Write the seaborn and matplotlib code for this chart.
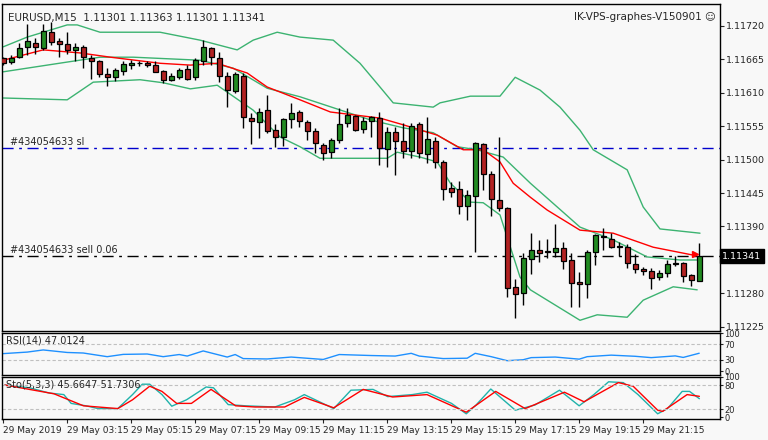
import matplotlib
matplotlib.use("Agg")
import matplotlib.pyplot as plt
import seaborn as sns
import numpy as np
import pandas as pd

opens = [1.11666,1.11660,1.11668,1.11684,1.11692,1.11683,1.11710,1.11695,1.11690,1.11679,
1.11684,1.11666,1.11661,1.11640,1.11636,1.11646,1.11655,1.11658,1.11659,1.11655,
1.11645,1.11631,1.11635,1.11648,1.11635,1.11662,1.11683,1.11666,1.11637,1.11613,
1.11637,1.11568,1.11562,1.11581,1.11548,1.11537,1.11566,1.11578,1.11561,1.11547,
1.11524,1.11512,1.11532,1.11560,1.11571,1.11550,1.11564,1.11568,1.11517,1.11545,
1.11530,1.11514,1.11558,1.11509,1.11530,1.11496,1.11453,1.11452,1.11424,1.11440,
1.11525,1.11476,1.11433,1.11420,1.11291,1.11281,1.11337,1.11351,1.11348,1.11348,
1.11355,1.11335,1.11299,1.11296,1.11348,1.11374,1.11369,1.11358,1.11356,1.11328,
1.11320,1.11317,1.11307,1.11314,1.11330,1.11330,1.11310,1.11301]
closes = [1.11658,1.11666,1.11683,1.11695,1.11684,1.11711,1.11693,1.11689,1.11679,1.11684,
1.11668,1.11661,1.11640,1.11636,1.11647,1.11657,1.11659,1.11659,1.11655,1.11644,
1.11631,1.11637,1.11647,1.11633,1.11663,1.11684,1.11668,1.11637,1.11614,1.11640,
1.11569,1.11564,1.11578,1.11547,1.11537,1.11566,1.11576,1.11563,1.11546,1.11527,
1.11510,1.11532,1.11559,1.11573,1.11548,1.11564,1.11569,1.11519,1.11545,1.11530,
1.11514,1.11555,1.11511,1.11534,1.11496,1.11452,1.11447,1.11424,1.11442,1.11527,
1.11476,1.11435,1.11420,1.11289,1.11279,1.11338,1.11351,1.11346,1.11348,1.11355,
1.11333,1.11297,1.11296,1.11348,1.11376,1.11373,1.11356,1.11356,1.11330,1.11320,
1.11317,1.11305,1.11314,1.11328,1.11328,1.11309,1.11302,1.11341]
highs = [1.11669,1.11672,1.11691,1.11722,1.11699,1.11722,1.11726,1.11699,1.11709,1.11692,
1.11688,1.11672,1.11663,1.11650,1.11650,1.11661,1.11663,1.11662,1.11662,1.11662,
1.11647,1.11642,1.11650,1.11655,1.11666,1.11696,1.11685,1.11677,1.11644,1.11644,
1.11642,1.11576,1.11584,1.11606,1.11559,1.11568,1.11592,1.11581,1.11565,1.11551,
1.11527,1.11535,1.11584,1.11584,1.11573,1.11570,1.11571,1.11578,1.11553,1.11553,
1.11560,1.11560,1.11562,1.11570,1.11537,1.11499,1.11463,1.11465,1.11450,1.11529,
1.11527,1.11481,1.11537,1.11422,1.11304,1.11346,1.11379,1.11368,1.11370,1.11394,
1.11365,1.11346,1.11315,1.11351,1.11378,1.11388,1.11379,1.11365,1.11361,1.11345,
1.11323,1.11322,1.11319,1.11335,1.11342,1.11332,1.11312,1.11363]
lows = [1.11655,1.11657,1.11666,1.11672,1.11674,1.11680,1.11688,1.11669,1.11673,1.11662,
1.11650,1.11633,1.11636,1.11620,1.11629,1.11639,1.11648,1.11654,1.11652,1.11643,
1.11625,1.11629,1.11632,1.11631,1.11631,1.11655,1.11655,1.11628,1.11587,1.11609,
1.11551,1.11525,1.11536,1.11543,1.11521,1.11522,1.11551,1.11554,1.11532,1.11510,
1.11499,1.11502,1.11527,1.11554,1.11546,1.11543,1.11537,1.11491,1.11488,1.11475,
1.11502,1.11502,1.11502,1.11494,1.11486,1.11433,1.11438,1.11410,1.11401,1.11348,
1.11450,1.11407,1.11415,1.11274,1.11240,1.11261,1.11312,1.11332,1.11338,1.11340,
1.11320,1.11258,1.11258,1.11273,1.11327,1.11351,1.11355,1.11342,1.11322,1.11314,
1.11310,1.11287,1.11302,1.11307,1.11325,1.11299,1.11292,1.11301]

up_bar = [0,3,8,9.25,12.1,19.6,24.6,29.25,31.25,34.25,37.1,41.25,44.6,47.1,48.75,53.75,54.6,58.4,62.1,64,67.1,69.6,72.1,73.75,78,80,82.1,87.1]
up_val = [1.11685,1.11701,1.11721,1.11721,1.11709,1.11709,1.11696,1.11680,1.11696,1.11709,1.11701,1.11696,1.11658,1.11619,1.11593,1.11586,1.11593,1.11604,1.11604,1.11635,1.11614,1.11586,1.11548,1.11516,1.11483,1.11422,1.11386,1.11379]
lo_bar = [0,8,11.25,17.1,20,23.4,26.75,31.25,34.6,37.1,39.6,45.9,48,49.25,52.1,54.25,55.9,58.4,60,62.1,63.4,64.6,65.9,72.1,74.25,78,80,83.75,86.75]
lo_val = [1.11601,1.11598,1.11627,1.11631,1.11626,1.11616,1.11622,1.11581,1.11537,1.11521,1.11502,1.11502,1.11502,1.11512,1.11504,1.11496,1.11461,1.11430,1.11429,1.11409,1.11356,1.11307,1.11286,1.11236,1.11245,1.11241,1.11269,1.11291,1.11286]
mid_bar = [0,8,12.1,16.25,24.6,28.75,33,37.1,45.9,50,53.75,56.75,59.25,62.5,65.9,72.1,76.25,80.5,84.6,86.75]
mid_val = [1.11644,1.11660,1.11668,1.11668,1.11663,1.11650,1.11617,1.11603,1.11565,1.11552,1.11544,1.11521,1.11516,1.11504,1.11461,1.11389,1.11368,1.11340,1.11335,1.11335]
ma_bar = [0,5,9.6,13.4,19.6,23.4,26.75,30.5,33,37.1,40.9,47.1,50,54.25,57.5,60,62.1,63.75,65.9,68,72.1,76.25,81.25,86.25]
ma_val = [1.11663,1.11680,1.11675,1.11668,1.11658,1.11655,1.11658,1.11642,1.11619,1.11598,1.11578,1.11568,1.11557,1.11540,1.11516,1.11516,1.11496,1.11461,1.11438,1.11417,1.11384,1.11379,1.11356,1.11343]

rsi_bar = [0,3,5,8,10,13,15,18,20,22,23,25,28,29,30,33,36,40,42,46,49,51,52,55,58,59,61,63,65,66,69,72,73,76,79,81,84,85,87]
rsi_val = [46,50,55.6,49,47.6,38,44,45,38,43.6,39.6,53,37,43.6,33,32,37,30.7,43.6,41,39.6,46.8,39.6,33,34,46.8,38,27.5,30,35.5,37,31.5,38,42,39,35.5,40,36,47.0]
stk_zx = [10,60,100,130,145,175,200,240,270,290,305,330,350,380,420,435,465,500,560,600,620,680,715,760,790,840,870,920,950,970,1000,1050,1090,1140,1180,1210,1240,1270,1300,1340,1360,1390,1405,1425]
stk_val = [80,73,60,56,34,28,21,21,56,82,82,56,27,43,75,73,31,28,25,43,56,21,67,69,51,56,62,34,8,30,70,17,30,67,28,56,88,86,56,8,21,64,64,45.7]
std_zx = [10,60,110,140,170,240,270,305,330,360,390,430,480,520,580,620,680,740,800,870,950,1010,1070,1150,1190,1260,1290,1340,1350,1400,1425]
std_val = [80,69,58,43,28,21,43,77,64,34,34,69,28,25,25,49,23,69,50,56,12,64,21,62,38,86,77,17,14,56,51.7]

price_ticks = [1.11720,1.11665,1.11610,1.11555,1.11500,1.11445,1.11390,1.11335,1.11280,1.11225]
time_labels = ["29 May 2019","29 May 03:15","29 May 05:15","29 May 07:15","29 May 09:15","29 May 11:15","29 May 13:15","29 May 15:15","29 May 17:15","29 May 19:15","29 May 21:15"]
time_bars = [0,8,16,24,32,40,48,56,64,72,80]
sl_price = 1.11519
sell_price = 1.11341

sns.set_style("white")
plt.rcParams['font.family'] = ['DejaVu Sans']
BG = '#f8f8f8'
W, H = 768, 440
fig = plt.figure(figsize=(7.68, 4.4), dpi=100)
fig.patch.set_facecolor(BG)

def axpx(x0, y0, x1, y1):
    return fig.add_axes([x0 / W, 1 - y1 / H, (x1 - x0) / W, (y1 - y0) / H])

XMIN = -0.15
XMAX = XMIN + (720 - 2) / 8.0
ax = axpx(2, 4, 720, 331)
ax1 = axpx(2, 333, 720, 375)
ax2 = axpx(2, 377, 720, 419)
for a in (ax, ax1, ax2):
    a.set_facecolor(BG)
    a.set_xlim(XMIN, XMAX)
    for s in a.spines.values():
        s.set_color('black'); s.set_linewidth(1)
    a.tick_params(axis='x', bottom=False, labelbottom=False)
    a.yaxis.tick_right()

df = pd.DataFrame({'o': opens, 'h': highs, 'l': lows, 'c': closes})
df['i'] = np.arange(len(df))
ax.vlines(df['i'], df['l'], df['h'], color='black', lw=1, zorder=3)
bull = df['c'] >= df['o']
bot = np.minimum(df['o'], df['c'])
ht = np.maximum(np.abs(df['c'] - df['o']), 0.000012)
ax.bar(df['i'], ht, bottom=bot, width=0.62, color=np.where(bull, '#228b22', '#b22222'),
       edgecolor='black', linewidth=0.9, zorder=4)

sns.lineplot(x=up_bar, y=up_val, ax=ax, color='#3cb371', lw=1, zorder=2)
sns.lineplot(x=lo_bar, y=lo_val, ax=ax, color='#3cb371', lw=1, zorder=2)
sns.lineplot(x=mid_bar, y=mid_val, ax=ax, color='#3cb371', lw=1, zorder=2)
sns.lineplot(x=ma_bar, y=ma_val, ax=ax, color='red', lw=1, zorder=2)

ax.axhline(sl_price, color='#0000cd', lw=1, ls=(0, (8, 4, 2, 4)), zorder=1)
ax.axhline(sell_price, color='black', lw=1, ls=(0, (8, 4, 2, 4)), zorder=1)
ax.text(0.9, sl_price + 0.00002, "#434054633 sl", fontsize=7, va='bottom')
ax.text(0.9, sell_price + 0.00002, "#434054633 sell 0.06", fontsize=7, va='bottom')
ax.plot([86.5], [sell_price + 0.00004], marker='>', color='red', ms=5, zorder=5)

ylo = 1.11445 - 138 * 1.642e-5
yhi = 1.11445 + 189 * 1.642e-5
ax.set_ylim(ylo, yhi)
ax.set_yticks(price_ticks)
ax.set_yticklabels([f"{p:.5f}" for p in price_ticks], fontsize=6.8)
ax.tick_params(axis='y', length=3, pad=1, direction='out')
ax.text(6 / 718, 1 - 9 / 327, "EURUSD,M15  1.11301 1.11363 1.11301 1.11341", transform=ax.transAxes,
        fontsize=7.5, va='top', ha='left')
ax.text(1 - 4 / 718, 1 - 8 / 327, "IK-VPS-graphes-V150901 \u263a", transform=ax.transAxes,
        fontsize=7.5, va='top', ha='right')
ax.text(1.003, (sell_price - ylo) / (yhi - ylo), "1.11341", transform=ax.transAxes, fontsize=6.8,
        color='white', va='center', ha='left', zorder=10,
        bbox=dict(boxstyle='square,pad=0.25', fc='black', ec='black'), clip_on=False)

# RSI
sns.lineplot(x=rsi_bar, y=rsi_val, ax=ax1, color='#1e90ff', lw=1)
ax1.set_ylim(-10, 100)
for lv in (70, 30):
    ax1.axhline(lv, color='#c0c0c0', lw=0.8, ls=(0, (3, 2)))
ax1.set_yticks([100, 70, 30, 0])
ax1.set_yticklabels(['100', '70', '30', '0'], fontsize=6)
ax1.tick_params(axis='y', length=2, pad=1)
ax1.text(4 / 718, 0.93, "RSI(14) 47.0124", transform=ax1.transAxes, fontsize=7, va='top')

# Stochastic
stk_bar = [z / 16.3 - 0.4 for z in stk_zx]
std_bar = [z / 16.3 - 0.4 for z in std_zx]
sns.lineplot(x=stk_bar, y=stk_val, ax=ax2, color='#20b2aa', lw=1)
sns.lineplot(x=std_bar, y=std_val, ax=ax2, color='red', lw=1)
ax2.set_ylim(-5, 100)
for lv in (80, 20):
    ax2.axhline(lv, color='#c0c0c0', lw=0.8, ls=(0, (3, 2)))
ax2.set_yticks([100, 80, 20, 0])
ax2.set_yticklabels(['100', '80', '20', '0'], fontsize=6)
ax2.tick_params(axis='y', length=2, pad=1)
ax2.text(4 / 718, 0.93, "Sto(5,3,3) 45.6647 51.7306", transform=ax2.transAxes, fontsize=7, va='top')

ax2.set_xticks(time_bars)
ax2.set_xticklabels(time_labels, fontsize=6.5, ha='left')
ax2.tick_params(axis='x', bottom=True, labelbottom=True, length=3, pad=2)

fig.savefig("out.png", dpi=100, facecolor=BG)
